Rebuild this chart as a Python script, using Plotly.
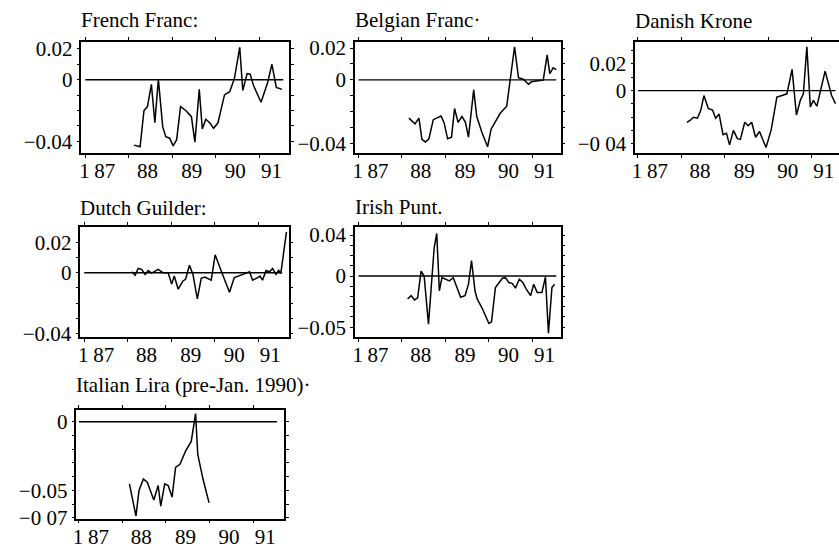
import plotly.graph_objects as go

W, H = 839, 550

# ---------------- data (decimal years, log deviations) ----------------
FR_X = [88.12, 88.26, 88.35, 88.43, 88.52, 88.60, 88.68, 88.78, 88.85, 88.94, 89.02, 89.10,
        89.19, 89.31, 89.44, 89.52, 89.62, 89.69, 89.77, 89.86, 89.95, 90.05, 90.20, 90.32,
        90.43, 90.55, 90.62, 90.72, 90.79, 90.87, 91.04, 91.19, 91.29, 91.39, 91.52]
FR_Y = [-0.0425, -0.0436, -0.020, -0.0175, -0.003, -0.028, 0.0004, -0.0305, -0.037, -0.038,
        -0.043, -0.039, -0.0175, -0.020, -0.024, -0.0406, -0.0063, -0.032, -0.0257, -0.028,
        -0.0316, -0.028, -0.0099, -0.0078, 0.001, 0.021, -0.007, 0.004, 0.0036, -0.004,
        -0.0147, -0.002, 0.010, -0.005, -0.0063]

BE_X = [88.16, 88.30, 88.39, 88.46, 88.54, 88.62, 88.72, 88.81, 88.90, 88.97, 89.05, 89.14,
        89.21, 89.29, 89.38, 89.46, 89.53, 89.65, 89.72, 89.84, 89.97, 90.05, 90.26, 90.41,
        90.49, 90.59, 90.68, 90.79, 90.91, 90.98, 91.13, 91.25, 91.34, 91.40, 91.48, 91.55]
BE_Y = [-0.024, -0.0276, -0.024, -0.0373, -0.039, -0.037, -0.025, -0.024, -0.0227, -0.027,
        -0.037, -0.036, -0.018, -0.0267, -0.023, -0.0267, -0.036, -0.0063, -0.023, -0.033,
        -0.042, -0.031, -0.021, -0.0165, -0.0006, 0.0208, 0.0014, 0.0004, -0.0027, -0.0012,
        -0.0006, -0.0002, 0.0157, 0.0039, 0.0076, 0.0065]

DK_X = [88.13, 88.20, 88.28, 88.37, 88.45, 88.52, 88.62, 88.72, 88.79, 88.87, 88.96, 89.04,
        89.11, 89.20, 89.29, 89.36, 89.46, 89.54, 89.62, 89.71, 89.80, 89.87, 89.95, 90.07,
        90.20, 90.32, 90.43, 90.55, 90.65, 90.74, 90.81, 90.89, 90.97, 91.04, 91.12, 91.31,
        91.46, 91.55]
DK_Y = [-0.0239, -0.0224, -0.020, -0.0207, -0.0146, -0.0037, -0.0134, -0.0146, -0.0207,
        -0.0176, -0.033, -0.032, -0.0407, -0.0298, -0.036, -0.0366, -0.0237, -0.0263,
        -0.0237, -0.035, -0.0307, -0.0366, -0.0427, -0.0293, -0.0049, -0.0037, -0.0024,
        0.0159, -0.0183, -0.0073, -0.0024, 0.0329, -0.0122, -0.0073, -0.0117, 0.0146,
        -0.0037, -0.0098]

NL_X = [88.09, 88.17, 88.24, 88.32, 88.40, 88.47, 88.55, 88.62, 88.70, 88.81, 88.93, 89.01,
        89.07, 89.16, 89.27, 89.33, 89.42, 89.50, 89.60, 89.69, 89.77, 89.92, 90.01, 90.15,
        90.34, 90.45, 90.53, 90.65, 90.80, 90.87, 90.99, 91.04, 91.10, 91.18, 91.26, 91.33,
        91.41, 91.47, 91.52, 91.65]
NL_Y = [0.0006, -0.0017, 0.0028, 0.0022, -0.0011, 0.0015, -0.0002, 0.0011, 0.0022, 0.0,
        0.0, -0.0075, -0.0022, -0.0108, -0.0054, -0.0043, 0.0049, -0.0011, -0.0172, -0.0037,
        -0.0028, -0.0049, 0.0118, 0.0011, -0.0129, -0.0032, -0.0022, -0.0011, 0.0006,
        -0.0049, -0.0032, -0.0022, -0.0049, 0.0015, 0.0006, 0.0028, -0.0011, 0.0015,
        -0.0005, 0.0269]

IE_X = [88.13, 88.21, 88.29, 88.36, 88.44, 88.51, 88.61, 88.69, 88.74, 88.80, 88.86, 88.92,
        88.99, 89.09, 89.18, 89.26, 89.35, 89.45, 89.53, 89.60, 89.68, 89.73, 89.85, 90.00,
        90.06, 90.15, 90.31, 90.38, 90.46, 90.54, 90.61, 90.70, 90.78, 90.86, 90.96, 91.03,
        91.11, 91.22, 91.30, 91.37, 91.45, 91.51]
IE_Y = [-0.0224, -0.0192, -0.0234, -0.0214, 0.0048, 0.0, -0.047, 0.0, 0.0272, 0.0416,
        -0.0144, -0.0016, -0.0032, -0.0048, -0.0016, -0.0112, -0.0208, -0.0192, -0.008,
        0.015, -0.0144, -0.0224, -0.032, -0.0464, -0.0448, -0.0112, -0.0022, -0.0016,
        -0.0064, -0.0074, -0.0118, -0.0032, -0.0064, -0.0128, -0.0192, -0.008, -0.016,
        -0.016, -0.001, -0.056, -0.0112, -0.008]

IT_X = [88.16, 88.31, 88.38, 88.48, 88.57, 88.72, 88.82, 88.88, 88.97, 89.05, 89.14, 89.22,
        89.32, 89.45, 89.58, 89.68, 89.73, 89.85, 89.99]
IT_Y = [-0.0452, -0.0686, -0.050, -0.0417, -0.044, -0.057, -0.0464, -0.0614, -0.0452,
        -0.0464, -0.0548, -0.0333, -0.031, -0.0214, -0.0143, 0.006, -0.0238, -0.0417, -0.059]

ZERO_X = [87.0, 91.55]
ZERO_Y = [0.0, 0.0]

# tick labels
XTICK_VALS = [86.98, 87.45, 88.43, 89.45, 90.45, 91.28]
XTICK_TEXT = ["1", "87", "88", "89", "90", "91"]
YEAR_TICKS = [87, 88, 89, 90, 91]

YT_A = [-0.04, -0.03, -0.02, -0.01, 0.0, 0.01, 0.02]
YT_A_TEXT = ["−0.04", "", "", "", "0", "", "0.02"]
YT_DK = [-0.04, -0.03, -0.02, -0.01, 0.0, 0.01, 0.02, 0.03]
YT_DK_TEXT = ["−0 04", "", "", "", "0", "", "0.02", ""]
YT_IE = [-0.05, -0.04, -0.03, -0.02, -0.01, 0.0, 0.01, 0.02, 0.03, 0.04]
YT_IE_TEXT = ["−0.05", "", "", "", "", "0", "", "", "", "0.04"]
YT_IT = [-0.07, -0.06, -0.05, -0.04, -0.03, -0.02, -0.01, 0.0]
YT_IT_TEXT = ["−0 07", "", "−0.05", "", "", "", "", "0"]

# ---------------- layout of panels (pixels) ----------------
panels = [
    dict(title="French Franc:", x=FR_X, y=FR_Y, box=(77.7, 286.7, 38.0, 153.0),
         xr=(86.91, 91.69), yr=(-0.0478, 0.0246), yt=YT_A, ytt=YT_A_TEXT, ty=15, right=True),
    dict(title="Belgian Franc·", x=BE_X, y=BE_Y, box=(352.7, 559.3, 38.0, 153.0),
         xr=(86.92, 91.65), yr=(-0.0461, 0.0239), yt=YT_A, ytt=YT_A_TEXT, ty=15, right=True),
    dict(title="Danish Krone", x=DK_X, y=DK_Y, box=(634.3, 839.0, 38.0, 153.0),
         xr=(86.94, 91.63), yr=(-0.047, 0.0366), yt=YT_DK, ytt=YT_DK_TEXT, ty=16, right=False),
    dict(title="Dutch Guilder:", x=NL_X, y=NL_Y, box=(76.7, 286.0, 229.0, 343.0),
         xr=(86.91, 91.70), yr=(-0.0425, 0.0301), yt=YT_A, ytt=YT_A_TEXT, ty=209, right=True),
    dict(title="Irish Punt.", x=IE_X, y=IE_Y, box=(352.7, 559.3, 229.0, 343.0),
         xr=(86.92, 91.65), yr=(-0.060, 0.048), yt=YT_IE, ytt=YT_IE_TEXT, ty=208, right=True),
    dict(title="Italian Lira (pre-Jan. 1990)·", x=IT_X, y=IT_Y, box=(72.7, 281.7, 418.0, 530.0),
         xr=(86.94, 91.72), yr=(-0.0705, 0.0085), yt=YT_IT, ytt=YT_IT_TEXT, ty=392, right=True),
]

FONT = "Liberation Serif, Times New Roman, serif"
fig = go.Figure()
layout = dict(width=W, height=H, margin=dict(l=0, r=0, t=0, b=0),
              paper_bgcolor="white", plot_bgcolor="white", showlegend=False,
              font=dict(family=FONT, size=21, color="black"))
annotations = []

for i, p in enumerate(panels, start=1):
    xa = "x" if i == 1 else f"x{i}"
    ya = "y" if i == 1 else f"y{i}"
    l, r, t, b = p["box"]
    fig.add_trace(go.Scatter(x=ZERO_X, y=ZERO_Y, mode="lines", xaxis=xa, yaxis=ya,
                             line=dict(color="black", width=1.4), hoverinfo="skip"))
    fig.add_trace(go.Scatter(x=p["x"], y=p["y"], mode="lines", xaxis=xa, yaxis=ya,
                             line=dict(color="black", width=1.5)))
    layout["xaxis" if i == 1 else f"xaxis{i}"] = dict(
        domain=[l / W, min(r / W, 1.0)], range=list(p["xr"]), anchor=ya,
        showline=True, linecolor="black", linewidth=1.5, mirror="allticks",
        showgrid=False, zeroline=False, ticks="", tickangle=0,
        tickvals=XTICK_VALS, ticktext=XTICK_TEXT, ticklabelstandoff=-2,
        tickfont=dict(family=FONT, size=21, color="black"),
        minor=dict(tickvals=YEAR_TICKS, ticks="outside", ticklen=3, tickwidth=1.2,
                   tickcolor="black", showgrid=False))
    layout["yaxis" if i == 1 else f"yaxis{i}"] = dict(
        domain=[1 - b / H, 1 - t / H], range=list(p["yr"]), anchor=xa,
        showline=True, linecolor="black", linewidth=1.5,
        mirror="allticks" if p["right"] else False,
        showgrid=False, zeroline=False, ticks="outside", ticklen=3, tickwidth=1.2,
        tickcolor="black", tickvals=p["yt"], ticktext=p["ytt"],
        tickfont=dict(family=FONT, size=21, color="black"))
    annotations.append(dict(text=p["title"], xref="paper", yref="paper",
                            x=l / W, y=1 - p["ty"] / H, xanchor="left", yanchor="middle",
                            xshift=-2, showarrow=False,
                            font=dict(family=FONT, size=21, color="black")))

layout["annotations"] = annotations
fig.update_layout(**layout)
fig.write_html("out.html", config={"displayModeBar": False},
               post_script="document.body.style.margin='0px';")
